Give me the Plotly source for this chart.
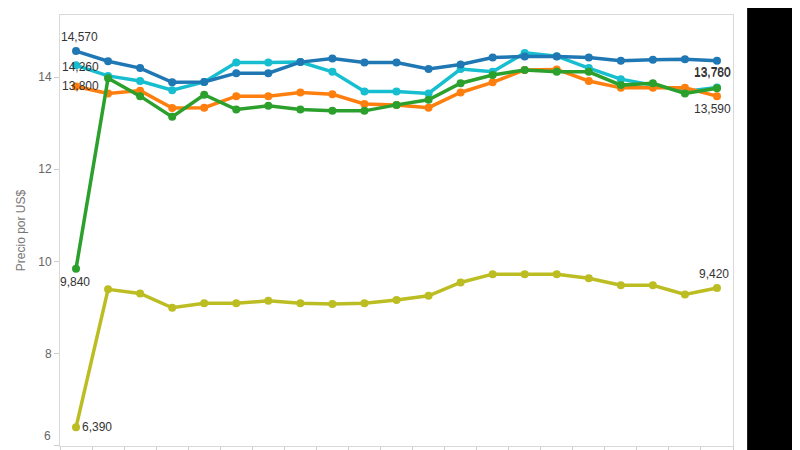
import plotly.graph_objects as go

periods = [f"P{i}" for i in range(1, 22)]

serie_azul = [14.57, 14.35, 14.20, 13.89, 13.90, 14.09, 14.09, 14.33, 14.41, 14.32, 14.32,
              14.18, 14.28, 14.43, 14.45, 14.45, 14.43, 14.36, 14.38, 14.39, 14.36]
serie_celeste = [14.26, 14.03, 13.92, 13.72, 13.90, 14.32, 14.32, 14.33, 14.12, 13.69, 13.69,
                 13.65, 14.18, 14.12, 14.53, 14.46, 14.20, 13.96, 13.83, 13.69, 13.78]
serie_naranja = [13.80, 13.65, 13.71, 13.33, 13.34, 13.59, 13.59, 13.67, 13.63, 13.42, 13.40,
                 13.34, 13.67, 13.89, 14.16, 14.17, 13.92, 13.77, 13.77, 13.77, 13.59]
serie_verde = [9.84, 13.98, 13.59, 13.14, 13.62, 13.30, 13.38, 13.30, 13.27, 13.27, 13.40,
               13.51, 13.87, 14.05, 14.16, 14.12, 14.12, 13.83, 13.87, 13.65, 13.76]
serie_oliva = [6.39, 9.39, 9.30, 8.99, 9.09, 9.09, 9.14, 9.09, 9.07, 9.09, 9.16,
               9.25, 9.54, 9.72, 9.72, 9.72, 9.63, 9.48, 9.48, 9.28, 9.42]

y_ticks = [6, 8, 10, 12, 14]

series = [
    (serie_celeste, "#17becf"),
    (serie_azul, "#1f77b4"),
    (serie_naranja, "#ff7f0e"),
    (serie_verde, "#2ca02c"),
    (serie_oliva, "#bcbd22"),
]

FONT = "Liberation Sans, Arial, sans-serif"

fig = go.Figure()
for vals, col in series:
    fig.add_trace(go.Scatter(
        x=periods, y=vals, mode="lines+markers",
        line=dict(color=col, width=3.5),
        marker=dict(color=col, size=8),
        showlegend=False, hoverinfo="skip",
    ))

def fmt(v):
    return f"{int(round(v * 1000)):,}"

# (series, index, xshift, yshift)
labels = [
    (serie_azul, 0, 3, 14),
    (serie_celeste, 0, 4, -2),
    (serie_naranja, 0, 4, 0),
    (serie_verde, 0, -1, -13),
    (serie_oliva, 0, 21, 0),
    (serie_oliva, 20, -3, 14),
    (serie_naranja, 20, -4, -13),
    (serie_celeste, 20, -4, 15),
    (serie_verde, 20, -4, 15),
]
for vals, i, xs, ys in labels:
    fig.add_annotation(
        x=periods[i], y=vals[i], text=fmt(vals[i]), showarrow=False,
        xshift=xs, yshift=ys, font=dict(size=12, color="#333333", family=FONT),
    )

# bottom tick label "6" kept inside the figure
fig.add_annotation(
    xref="paper", yref="y", x=0, y=y_ticks[0], text=str(y_ticks[0]), showarrow=False,
    xanchor="right", xshift=-7, yshift=9, font=dict(size=12, color="#666666", family=FONT),
)

fig.add_shape(type="rect", xref="paper", yref="paper", x0=1.021, x1=1.2, y0=-0.1, y1=1.1,
              fillcolor="black", line=dict(width=0), layer="above")

fig.update_layout(
    width=792, height=442,
    margin=dict(l=52, r=67, t=7, b=4),
    paper_bgcolor="white", plot_bgcolor="white",
    font=dict(family=FONT, size=12, color="#666666"),
)
fig.update_xaxes(
    type="category", range=[-0.5, 20.5], tickson="boundaries", automargin=False,
    showticklabels=False, ticks="outside", ticklen=5, tickcolor="#cccccc",
    showline=True, linecolor="#d9d9d9", mirror=True, showgrid=False, zeroline=False,
)
fig.update_yaxes(
    range=[5.985, 15.354], tickvals=y_ticks, automargin=False,
    ticktext=[""] + [str(t) for t in y_ticks[1:]],
    ticks="outside", ticklen=5, tickcolor="#cccccc",
    showline=True, linecolor="#d9d9d9", mirror=True, showgrid=False, zeroline=False,
    title=dict(text="Precio por US$", font=dict(size=12, color="#777777"), standoff=10),
    tickfont=dict(size=12, color="#666666"),
)

fig.write_html("out.html")
